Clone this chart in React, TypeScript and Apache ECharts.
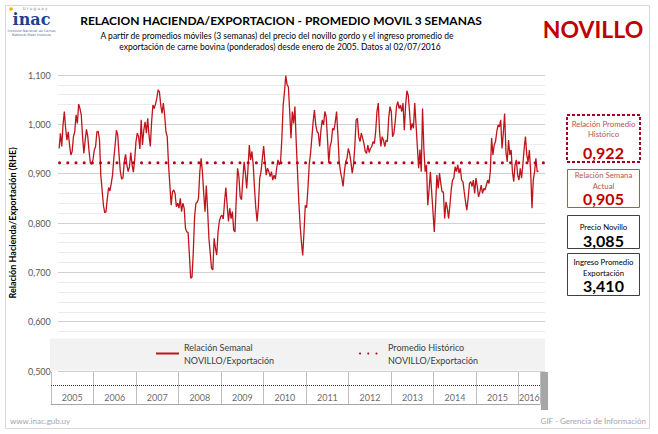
import React, { useEffect, useRef } from 'react';
import * as echarts from 'echarts';

const years = ['2005', '2006', '2007', '2008', '2009', '2010', '2011', '2012', '2013', '2014', '2015', '2016'];
const yearLength = [1, 1, 1, 1, 1, 1, 1, 1, 1, 1, 1, 0.5];

// Relación semanal NOVILLO/Exportación (promedio móvil 3 semanas)
const ratio2005to2008 = [
  0.951, 0.982, 0.955, 0.999, 1.026, 0.992, 0.968, 0.985, 0.958, 0.938, 0.945, 0.975, 0.985, 1.019, 1.002, 1.041,
  1.032, 1.019, 0.975, 0.941, 0.968, 0.990, 0.975, 0.945, 0.921, 0.919, 0.928, 0.948, 0.955, 0.985, 0.986, 0.968,
  0.897, 0.867, 0.836, 0.821, 0.823, 0.850, 0.872, 0.865, 0.880, 0.897, 0.931, 0.958, 0.988, 0.978, 0.938, 0.904,
  0.889, 0.891, 0.924, 0.939, 0.918, 0.904, 0.914, 0.943, 0.918, 0.903, 0.928, 0.965, 0.982, 0.975, 0.950, 1.009,
  0.958, 0.988, 1.005, 0.982, 1.012, 0.978, 0.955, 1.005, 1.039, 1.032, 1.041, 1.053, 1.070, 1.066, 1.039, 1.022,
  1.043, 1.019, 0.985, 0.975, 0.918, 0.877, 0.836, 0.863, 0.867, 0.860, 0.833, 0.840, 0.830, 0.850, 0.823, 0.840,
  0.830, 0.789, 0.782, 0.781, 0.735, 0.688, 0.690, 0.741, 0.813, 0.840, 0.842, 0.850, 0.904, 0.931, 0.904, 0.860,
  0.823, 0.876, 0.826, 0.769, 0.739, 0.708,
];
const ratio2009to2012 = [
  0.705, 0.769, 0.749, 0.735, 0.782, 0.803, 0.813, 0.816, 0.808, 0.843, 0.872, 0.836, 0.803, 0.830, 0.809, 0.823,
  0.786, 0.782, 0.850, 0.911, 0.894, 0.853, 0.847, 0.887, 0.924, 0.901, 0.870, 0.911, 0.958, 0.928, 0.945, 0.918,
  0.870, 0.830, 0.803, 0.836, 0.891, 0.904, 0.931, 0.956, 0.924, 0.897, 0.911, 0.904, 0.894, 0.904, 0.887, 0.897,
  0.889, 0.911, 0.928, 0.918, 0.924, 0.972, 1.039, 1.066, 1.099, 1.080, 1.076, 1.026, 0.972, 1.026, 1.002, 1.036,
  0.965, 0.904, 0.843, 0.796, 0.762, 0.734, 0.782, 0.836, 0.831, 0.870, 0.918, 0.941, 0.972, 1.005, 1.029, 0.999,
  0.985, 0.982, 0.955, 0.988, 1.009, 0.999, 1.026, 1.016, 0.972, 0.921, 0.955, 0.965, 0.992, 0.988, 1.005, 1.026,
  0.978, 0.924, 0.904, 0.891, 0.874, 0.904, 0.924, 0.931, 0.951, 0.941, 0.924, 0.901, 0.918, 0.955, 1.009, 1.012,
  0.975, 0.965, 0.982, 0.972, 0.961, 0.945, 0.941, 0.958, 0.943, 0.951, 0.955, 0.965, 0.961, 0.985, 1.026,
];
const ratio2013to2016 = [
  1.043, 0.985, 0.955, 0.975, 0.968, 0.955, 0.968, 0.965, 1.012, 1.036, 1.026, 0.975, 0.982, 1.005, 1.036, 1.046,
  1.032, 1.039, 1.026, 1.043, 0.988, 1.039, 1.068, 1.059, 1.026, 0.988, 1.002, 0.992, 1.043, 0.999, 0.955, 0.911,
  0.949, 0.904, 1.032, 0.951, 0.904, 0.918, 0.836, 0.867, 0.904, 0.863, 0.823, 0.782, 0.836, 0.897, 0.870, 0.901,
  0.880, 0.863, 0.863, 0.809, 0.843, 0.830, 0.809, 0.836, 0.867, 0.887, 0.891, 0.914, 0.904, 0.918, 0.901, 0.911,
  0.887, 0.884, 0.863, 0.843, 0.826, 0.850, 0.880, 0.884, 0.874, 0.887, 0.860, 0.891, 0.874, 0.853, 0.863, 0.877,
  0.860, 0.870, 0.867, 0.877, 0.887, 0.880, 0.904, 0.972, 0.938, 0.958, 0.965, 0.985, 0.999, 0.995, 1.009, 0.951,
  0.982, 1.022, 0.945, 0.924, 0.968, 0.938, 0.948, 0.904, 0.884, 0.918, 0.928, 0.897, 0.887, 0.911, 0.891, 0.918,
  0.951, 0.975, 0.938, 0.924, 0.948, 0.904, 0.830, 0.887, 0.904, 0.931, 0.904, 0.905,
];

const historicAverage = 0.922;
const currentWeek = 0.905;
const precioNovillo = 3.085;
const ingresoExportacion = 3.41;

const yMin = 0.5;
const yMax = 1.1;
const yStep = 0.1;

const seriesWeekly = 'Relación Semanal NOVILLO/Exportación';
const seriesAverage = 'Promedio Histórico NOVILLO/Exportación';

const fmt = (v: number) => v.toFixed(3).replace('.', ',');

const RED = '#c0141c';
const FONT = 'Lato, "Open Sans", sans-serif';

export default function App() {
  const ref = useRef<HTMLDivElement>(null);

  useEffect(() => {
    const chart = echarts.init(ref.current!, null, { renderer: 'svg' });
    const ratio = [...ratio2005to2008, ...ratio2009to2012, ...ratio2013to2016];
    const n = ratio.length;
    const xMin = -1;
    const xMax = n + 4;
    const lineData = ratio.map((v, i) => [i, v]);

    const yearPoints: any[] = [];
    let start = 0;
    years.forEach((y, i) => {
      yearPoints.push([start + yearLength[i] / 2, 0.2, y]);
      start += yearLength[i];
    });
    const tableMax = start;

    const txt = (
      text: string,
      x: number,
      y: number,
      size: number,
      fill: string,
      weight = 'normal',
      align = 'center',
      family = FONT,
      lineHeight?: number
    ) => ({
      type: 'text',
      x,
      y,
      z: 10,
      silent: true,
      style: {
        text,
        fill,
        fontSize: size,
        fontWeight: weight,
        fontFamily: family,
        lineHeight: lineHeight ?? Math.round(size * 1.2),
        textAlign: align,
        textVerticalAlign: 'middle',
        align,
        verticalAlign: 'middle',
      },
    });

    const bx = 567;
    const bw = 73;
    const bc = bx + bw / 2;

    const legendCommon = {
      top: 329,
      itemWidth: 23,
      itemHeight: 8,
      z: 20,
      selectedMode: false,
      itemStyle: { opacity: 0 },
      formatter: (name: string) => name.replace(' NOVILLO', '\nNOVILLO'),
      textStyle: { fontFamily: FONT, fontSize: 9, color: '#404040', lineHeight: 13, padding: [13, 0, 0, 0] },
    };

    const option: any = {
      animation: false,
      backgroundColor: '#ffffff',
      grid: [
        { left: 50, top: 75, width: 495, height: 296 },
        { left: 51, top: 372, width: 489, height: 32 },
      ],
      xAxis: [
        { type: 'value', gridIndex: 0, min: xMin, max: xMax, show: false },
        {
          type: 'value',
          gridIndex: 1,
          min: 0,
          max: tableMax,
          interval: 1,
          position: 'top',
          axisLine: { show: true, lineStyle: { color: '#a6a6a6' } },
          axisTick: { show: false },
          axisLabel: { show: false },
          splitLine: { show: true, lineStyle: { color: '#bfbfbf' } },
        },
      ],
      yAxis: [
        {
          type: 'value',
          gridIndex: 0,
          min: yMin,
          max: yMax,
          interval: yStep,
          name: 'Relación Hacienda/Exportación (RHE)',
          nameLocation: 'middle',
          nameGap: 32,
          nameTextStyle: { fontFamily: FONT, fontSize: 9, fontWeight: 'bold', color: '#000' },
          axisLine: { show: false },
          axisTick: { show: false },
          axisLabel: { formatter: (v: number) => fmt(v), color: '#595959', fontSize: 9, fontFamily: FONT, margin: 7 },
          splitLine: { show: true, lineStyle: { color: '#d0d0d0' } },
          minorTick: { show: false, splitNumber: 5 },
          minorSplitLine: { show: true, lineStyle: { color: '#ebebeb' } },
        },
        { type: 'value', gridIndex: 1, min: 0, max: 1, show: false },
      ],
      legend: [
        { ...legendCommon, data: [seriesWeekly], left: 150 },
        { ...legendCommon, data: [seriesAverage], left: 354 },
      ],
      series: [
        {
          name: seriesWeekly,
          type: 'line',
          xAxisIndex: 0,
          yAxisIndex: 0,
          data: lineData,
          showSymbol: false,
          symbol: 'none',
          color: RED,
          lineStyle: { color: RED, width: 1.3 },
          z: 3,
        },
        {
          name: seriesAverage,
          type: 'line',
          xAxisIndex: 0,
          yAxisIndex: 0,
          data: [
            [xMin + 1.3, historicAverage],
            [xMax, historicAverage],
          ],
          showSymbol: false,
          symbol: 'none',
          color: '#b8001f',
          lineStyle: { color: '#b8001f', width: 3, type: [0.1, 8.1], cap: 'round' },
          z: 4,
        },
        {
          type: 'scatter',
          xAxisIndex: 1,
          yAxisIndex: 1,
          data: yearPoints,
          symbolSize: 1,
          itemStyle: { color: 'rgba(0,0,0,0)' },
          silent: true,
          label: {
            show: true,
            position: 'inside',
            formatter: (p: any) => p.value[2],
            fontFamily: FONT,
            fontSize: 9,
            color: '#404040',
          },
          markLine: {
            silent: true,
            symbol: 'none',
            label: { show: false },
            data: [
              { yAxis: 0.6, lineStyle: { type: [1, 1], color: '#303030', width: 1 } },
              { xAxis: tableMax, lineStyle: { type: 'solid', color: '#bfbfbf', width: 1 } },
            ],
          },
        },
      ],
      graphic: [
        // outer frame
        {
          type: 'rect',
          z: 0,
          silent: true,
          shape: { x: 5.5, y: 5.5, width: 644, height: 423 },
          style: { fill: 'none', stroke: '#d9d9d9', lineWidth: 1 },
        },
        // legend band
        {
          type: 'rect',
          z: 5,
          silent: true,
          shape: { x: 50, y: 338.5, width: 495, height: 32 },
          style: { fill: '#f2f2f2' },
        },
        // gray bar at table end
        {
          type: 'rect',
          z: 5,
          silent: true,
          shape: { x: 541, y: 372, width: 7, height: 38 },
          style: { fill: '#a6a6a6' },
        },
        // logo
        { type: 'circle', z: 10, silent: true, shape: { cx: 11, cy: 9, r: 1.8 }, style: { fill: '#f2b200' } },
        txt('U r u g u a y', 35, 8.5, 4, '#7f7f7f', 'normal', 'center', 'DejaVu Sans', 4),
        txt('inac', 31.5, 19, 16, '#1f3f8f', 'bold', 'center', '"DejaVu Serif", serif', 12),
        txt('Instituto Nacional de Carnes\nNational Meat Institute', 31.5, 33, 3.4, '#4f6fa8', 'normal', 'center', 'DejaVu Sans', 4.2),
        // titles
        txt('RELACION HACIENDA/EXPORTACION - PROMEDIO MOVIL 3 SEMANAS', 281, 20.5, 12, '#000000', 'bold'),
        txt('A partir de promedios móviles (3 semanas) del precio del novillo gordo y el ingreso promedio de', 277, 35.5, 8.5, '#000000'),
        txt('exportación de carne bovina (ponderados) desde enero de 2005. Datos al 02/07/2016', 280, 46.5, 8.5, '#000000'),
        txt('NOVILLO', 593, 29, 23, '#c00000', 'bold'),
        // boxes
        {
          type: 'rect',
          z: 10,
          silent: true,
          shape: { x: bx, y: 115, width: bw, height: 47 },
          style: { fill: '#ffffff', stroke: '#a50021', lineWidth: 2, lineDash: [3, 2] },
        },
        txt('Relación Promedio', bc, 123.5, 7.8, '#c0504d'),
        txt('Histórico', bc, 133.5, 7.8, '#c0504d'),
        txt(fmt(historicAverage), bc, 152, 16, '#c00000', 'bold'),
        {
          type: 'rect',
          z: 10,
          silent: true,
          shape: { x: bx + 0.5, y: 169.5, width: bw - 1, height: 38 },
          style: { fill: '#ffffff', stroke: '#c0504d', lineWidth: 1 },
        },
        txt('Relación Semana', bc, 175, 7.8, '#c0504d'),
        txt('Actual', bc, 185.5, 7.8, '#c0504d'),
        txt(fmt(currentWeek), bc, 198.5, 16, '#c00000', 'bold'),
        {
          type: 'rect',
          z: 10,
          silent: true,
          shape: { x: bx + 0.5, y: 215.5, width: bw - 1, height: 33 },
          style: { fill: '#ffffff', stroke: '#404040', lineWidth: 1 },
        },
        txt('Precio Novillo', bc, 226.5, 7.8, '#000000'),
        txt(fmt(precioNovillo), bc, 240, 16, '#000000', 'bold'),
        {
          type: 'rect',
          z: 10,
          silent: true,
          shape: { x: bx + 0.5, y: 253.5, width: bw - 1, height: 42 },
          style: { fill: '#ffffff', stroke: '#404040', lineWidth: 1 },
        },
        txt('Ingreso Promedio', bc, 262, 7.8, '#000000'),
        txt('Exportación', bc, 272.5, 7.8, '#000000'),
        txt(fmt(ingresoExportacion), bc, 285.5, 16, '#000000', 'bold'),
        // footer
        txt('www.inac.gub.uy', 10, 421, 8, '#a6a6a6', 'normal', 'left'),
        txt('GIF - Gerencia de Información', 646, 421, 8, '#a6a6a6', 'normal', 'right'),
      ],
    };

    chart.setOption(option);
    return () => chart.dispose();
  }, []);

  return (
    <div
      ref={ref}
      style={{ position: 'fixed', left: 0, top: 0, width: 658, height: 434, background: '#ffffff' }}
    />
  );
}
